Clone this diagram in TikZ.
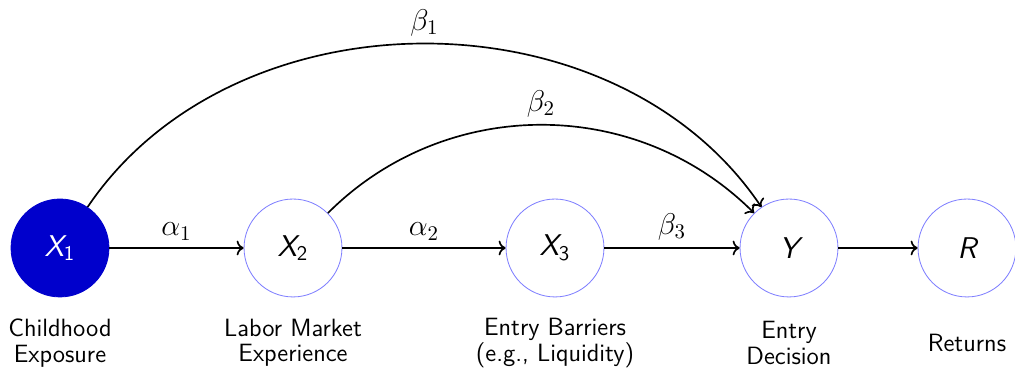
\documentclass[tikz,border=0pt]{standalone}
\usepackage{amsmath}
\usetikzlibrary{arrows.meta}
\newcommand{\sv}[2]{\textsf{\itshape #1}_{\textsf{#2}}}
\begin{document}
\begin{tikzpicture}[x=0.48pt,y=0.48pt,
  var/.style={circle,draw=blue!50,line width=0.4pt,minimum size=47pt,inner sep=0pt,font=\Large\sffamily},
  obs/.style={var,fill=blue!80!black,draw=blue!80!black,text=white},
  lab/.style={font=\fontsize{12}{12.2}\selectfont\sffamily,align=center},
  arr/.style={->,thick},
  elab/.style={font=\Large}]
\useasboundingbox (0,0) rectangle (1015,370);
\node[obs] (x1) at (60,122) {$\sv{X}{1}$};
\node[var] (x2) at (293,122) {$\sv{X}{2}$};
\node[var] (x3) at (555,122) {$\sv{X}{3}$};
\node[var] (y) at (789,122) {\itshape Y};
\node[var] (r) at (967,122) {\itshape R};
\node[lab] (l1) at (60,27) {Childhood\\Exposure};
\node[lab] (l2) at (293,27) {Labor Market\\Experience};
\node[lab] (l3) at (555,27) {Entry Barriers\\(e.g., Liquidity)};
\node[lab] (l4) at (789,27) {Entry\\Decision};
\node[lab] (l5) at (967,27) {Returns};
\draw[arr] (x1) -- node[above,elab]{$\alpha_1$} (x2);
\draw[arr] (x2) -- node[above,elab]{$\alpha_2$} (x3);
\draw[arr] (x3) -- node[above,elab]{$\beta_3$} (y);
\draw[arr] (y) -- (r);
\draw[arr] (x1) to[bend left=56] node[above,elab]{$\beta_1$} (y);
\draw[arr] (x2) to[bend left=45] node[above,elab]{$\beta_2$} (y);
\end{tikzpicture}
\end{document}
